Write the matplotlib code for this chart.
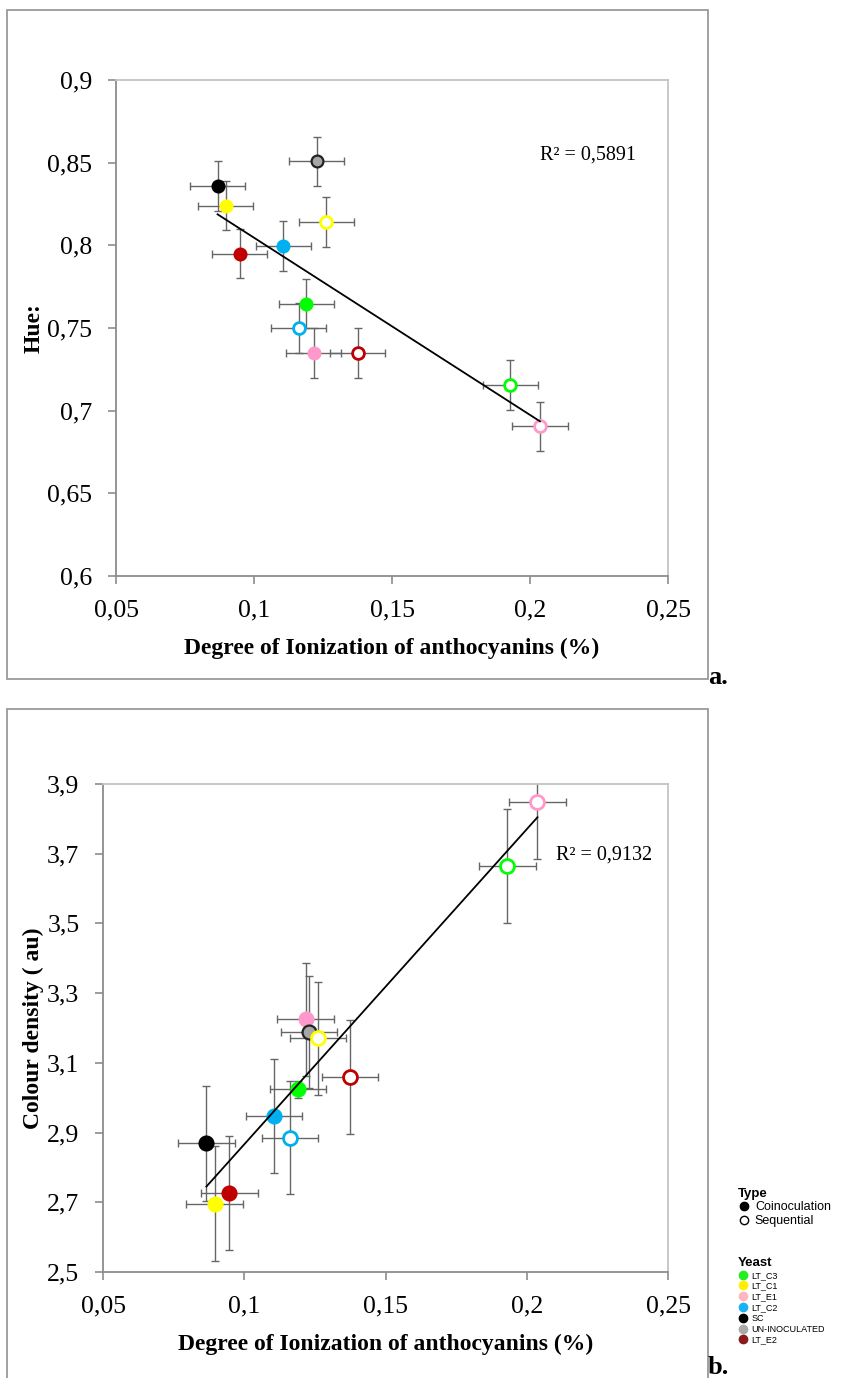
import numpy as np
import matplotlib.pyplot as plt
from matplotlib.lines import Line2D
from matplotlib.patches import Rectangle

# treatments (same order in both panels)
yeast = ["SC", "LT_C1", "LT_E2", "LT_C2", "LT_C3", "LT_C2", "LT_E1", "UN-INOCULATED",
         "LT_C1", "LT_E2", "LT_C3", "LT_E1"]
kind = ["Coinoculation"] * 5 + ["Sequential", "Coinoculation", "Coinoculation",
                                "Sequential", "Sequential", "Sequential", "Sequential"]

# panel a: ionization vs hue
ion_a = [0.0868, 0.0898, 0.0948, 0.1106, 0.1190, 0.1162, 0.1217, 0.1227, 0.1262, 0.1375, 0.1929, 0.2036]
hue = [0.836, 0.824, 0.795, 0.7997, 0.7648, 0.750, 0.735, 0.8508, 0.814, 0.735, 0.7156, 0.6905]
hue_err = [0.015] * 12

# panel b: ionization vs colour density
ion_b = [0.0866, 0.0895, 0.0947, 0.1105, 0.1191, 0.1162, 0.1217, 0.1230, 0.1261, 0.1375, 0.1931, 0.2038]
dens = [2.869, 2.696, 2.727, 2.947, 3.024, 2.885, 3.225, 3.189, 3.171, 3.059, 3.665, 3.847]
dens_err = [0.165, 0.165, 0.163, 0.163, 0.025, 0.162, 0.162, 0.16, 0.162, 0.163, 0.163, 0.163]
ion_err = 0.01

plot_col = {"LT_C3": "#00ff00", "LT_C1": "#ffff00", "LT_E1": "#ff99cc", "LT_C2": "#00b0f0",
            "SC": "#000000", "UN-INOCULATED": "#a6a6a6", "LT_E2": "#c00000"}
leg_col = {"LT_C3": "#22ee22", "LT_C1": "#ffee00", "LT_E1": "#ffb6c1", "LT_C2": "#1ab2f5",
           "SC": "#000000", "UN-INOCULATED": "#aaaaaa", "LT_E2": "#8b1a1a"}

serif = ["Liberation Serif", "DejaVu Serif"]
plt.rcParams["font.family"] = serif

fig = plt.figure(figsize=(8.46, 13.78), dpi=100)
W, H = 846, 1378

def px_axes(x0, y0, x1, y1):
    return fig.add_axes([x0 / W, 1 - y1 / H, (x1 - x0) / W, (y1 - y0) / H])

# outer frames
fig.patches.append(Rectangle((7 / W, 1 - 679 / H), 701 / W, 669 / H, transform=fig.transFigure,
                             fill=False, ec="#9a9a9a", lw=1.3))
fig.patches.append(Rectangle((7 / W, -0.01), 701 / W, 1 - 709 / H + 0.01, transform=fig.transFigure,
                             fill=False, ec="#9a9a9a", lw=1.3))

def panel(ax, x, y, yerr, ms, r2, r2pos, ylabel, yticks, ylim):
    for xi, yi, ei, ye, ty in zip(x, y, yerr, yeast, kind):
        ax.errorbar(xi, yi, xerr=ion_err, yerr=ei, fmt="none", ecolor="#666666",
                    elinewidth=1, capsize=3, capthick=1, zorder=2)
        c = plot_col[ye]
        if ty == "Coinoculation":
            ec = "#222222" if ye == "UN-INOCULATED" else c
            ax.plot(xi, yi, "o", ms=ms, mfc=c, mec=ec, mew=1.6, zorder=3)
        else:
            ax.plot(xi, yi, "o", ms=ms, mfc="white", mec=c, mew=2, zorder=3)
    k, b = np.polyfit(x, y, 1)
    xs = np.array([min(x), max(x)])
    ax.plot(xs, k * xs + b, color="black", lw=1.3, zorder=4)
    ax.text(r2pos[0], r2pos[1], r2, fontsize=14.5, va="center", ha="left")
    ax.set_xlim(0.05, 0.25)
    ax.set_ylim(*ylim)
    ax.set_xticks([0.05, 0.1, 0.15, 0.2, 0.25])
    ax.set_xticklabels(["0,05", "0,1", "0,15", "0,2", "0,25"], fontsize=18.5)
    ax.set_yticks(yticks)
    ax.set_yticklabels([f"{t:g}".replace(".", ",") for t in yticks], fontsize=18.5)
    ax.set_xlabel("Degree of Ionization of anthocyanins (%)", fontsize=17, fontweight="bold", labelpad=12)
    ax.set_ylabel(ylabel, fontsize=17, fontweight="bold", labelpad=2)
    for s in ["left", "bottom"]:
        ax.spines[s].set_color("#8c8c8c")
        ax.spines[s].set_linewidth(1.3)
    for s in ["top", "right"]:
        ax.spines[s].set_color("#c4c4c4")
        ax.spines[s].set_linewidth(1.3)
    ax.tick_params(direction="out", length=6, width=1.2, color="#8c8c8c")
    ax.tick_params(axis="x", pad=11)
    ax.tick_params(axis="y", pad=11)

ax1 = px_axes(116, 80, 668, 576)
panel(ax1, ion_a, hue, hue_err, 8.5, "R² = 0,5891", (0.2036, 0.8546), "Hue:",
      [0.6, 0.65, 0.7, 0.75, 0.8, 0.85, 0.9], (0.6, 0.9))

ax2 = px_axes(103, 784, 668, 1272)
panel(ax2, ion_b, dens, dens_err, 10, "R² = 0,9132", (0.2104, 3.697), "Colour density ( au)",
      [2.5, 2.7, 2.9, 3.1, 3.3, 3.5, 3.7, 3.9], (2.5, 3.9))

fig.text(708 / W, 1 - 684 / H, "a.", fontsize=19, fontweight="bold", ha="left", va="baseline")
fig.text(708 / W, 1 - 1374 / H, "b.", fontsize=19, fontweight="bold", ha="left", va="baseline")

# legends
sans = ["Liberation Sans", "DejaVu Sans"]
type_h = [Line2D([], [], ls="", marker="o", ms=6, mfc="black", mec="black"),
          Line2D([], [], ls="", marker="o", ms=6, mfc="white", mec="black", mew=1)]
leg1 = fig.legend(type_h, ["Coinoculation", "Sequential"], loc="upper left",
                  bbox_to_anchor=(738 / W, 1 - 1188 / H), frameon=False,
                  title="Type", alignment="left", handletextpad=0.35, handlelength=1,
                  borderaxespad=0, borderpad=0, labelspacing=0.12,
                  prop={"family": sans, "size": 9},
                  title_fontproperties={"family": sans, "size": 9.5, "weight": "bold"})
yeast_names = ["LT_C3", "LT_C1", "LT_E1", "LT_C2", "SC", "UN-INOCULATED", "LT_E2"]
yeast_h = [Line2D([], [], ls="", marker="o", ms=6, mfc=leg_col[n], mec=leg_col[n]) for n in yeast_names]
leg2 = fig.legend(yeast_h, yeast_names, loc="upper left",
                  bbox_to_anchor=(738 / W, 1 - 1257 / H), frameon=False,
                  title="Yeast", alignment="left", handletextpad=0.45, handlelength=1,
                  borderaxespad=0, borderpad=0, labelspacing=0.2,
                  prop={"family": sans, "size": 6.5},
                  title_fontproperties={"family": sans, "size": 9.5, "weight": "bold"})

fig.savefig("out.png", dpi=100, facecolor="white")
